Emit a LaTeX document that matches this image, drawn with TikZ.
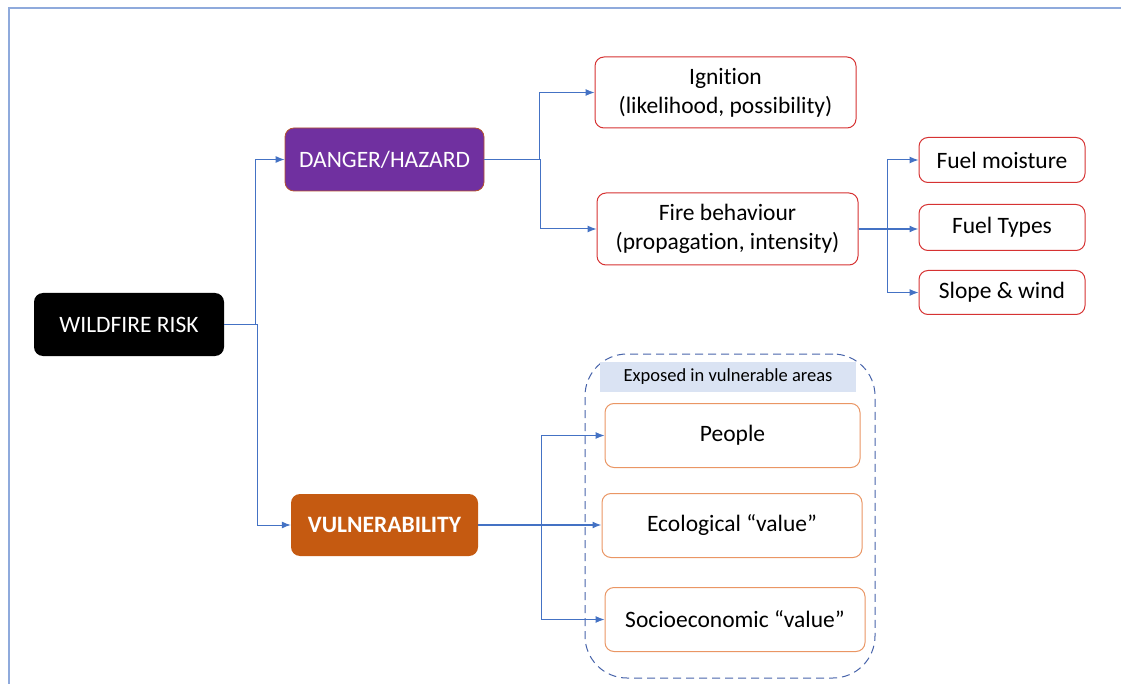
\documentclass[tikz,border=0pt]{standalone}
\usepackage{fontspec}
\setmainfont{Carlito}[RawFeature={-liga;-clig;-calt;-dlig}]
\usetikzlibrary{arrows.meta}
\newcommand{\nolig}{\kern0pt}
\definecolor{lineblue}{RGB}{68,114,196}
\definecolor{framecol}{RGB}{143,170,220}
\definecolor{purpfill}{RGB}{112,48,160}
\definecolor{orangefill}{RGB}{197,90,17}
\definecolor{redline}{RGB}{214,50,50}
\definecolor{orangeline}{RGB}{234,150,100}
\definecolor{labelfill}{RGB}{218,227,243}
\definecolor{dashcol}{RGB}{72,100,170}
\tikzset{
  base/.style={rounded corners=9pt, align=center, inner sep=0pt,
    font=\fontsize{23.5}{29}\selectfont},
  redbox/.style={base, draw=redline, line width=1pt, fill=white},
  orbox/.style={base, draw=orangeline, line width=1pt, fill=white},
  conn/.style={draw=lineblue, line width=1pt, -{Latex[length=9pt,width=7pt]}},
}
\begin{document}
\begin{tikzpicture}[x=1pt,y=-1pt]
\useasboundingbox (0,0) rectangle (1121,684);
% frame
\draw[framecol, line width=2pt] (9,690) -- (9,8) -- (1130,8);
% main nodes
\node[base, fill=black, text=white, minimum width=190pt, minimum height=63pt] (risk) at (129,324.5) {WILDFIRE RISK};
\node[base, fill=purpfill, draw=orangefill!80!purpfill, line width=0.8pt, text=white, minimum width=199pt, minimum height=63pt] (danger) at (384.5,159.5) {DANGER/HAZARD};
\node[base, fill=orangefill, text=white, minimum width=187pt, minimum height=62pt, font=\fontsize{23.5}{29}\selectfont\bfseries] (vuln) at (384.5,525) {VULNERABILITY};
% hazard branch
\node[redbox, minimum width=261pt, minimum height=71pt] (ign) at (725.5,92.5) {Igni\nolig tion\\(likelihood, possibility)};
\node[redbox, minimum width=261pt, minimum height=72pt] (fire) at (727.5,229) {Fire behaviour\\(propaga\nolig tion, intensity)};
\node[redbox, minimum width=166pt, minimum height=45pt] (fm) at (1002,160) {Fuel moisture};
\node[redbox, minimum width=166pt, minimum height=46pt] (ft) at (1002,227.5) {Fuel Types};
\node[redbox, minimum width=166pt, minimum height=44pt] (sw) at (1002,292.5) {Slope \& wind};
% vulnerability group
\node[draw=dashcol, line width=1pt, dash pattern=on 8pt off 5pt, rounded corners=42pt, minimum width=290pt, minimum height=324pt] (group) at (730,516) {};
\node[fill=labelfill, minimum width=256pt, minimum height=30pt, inner sep=0pt, font=\fontsize{18.5}{22}\selectfont] (lab) at (728,376.5) {Exposed in vulnerable areas};
\node[orbox, minimum width=255pt, minimum height=64pt] (people) at (732.5,435.5) {People};
\node[orbox, minimum width=260pt, minimum height=64pt] (eco) at (732,525.5) {Ecological “value”};
\node[orbox, minimum width=260pt, minimum height=64pt] (socio) at (735,619.5) {Socioeconomic “value”};
% connectors
\draw[conn] (risk.east) -- ++(31,0) |- (danger.west);
\draw[conn] (risk.east) -- ++(33,0) |- (vuln.west);
\draw[conn] (danger.east) -- ++(55,0) |- (ign.west);
\draw[conn] (danger.east) -- ++(56,0) |- (fire.west);
\draw[conn] (fire.east) -- ++(29,0) |- (fm.west);
\draw[conn, line width=1.4pt] (fire.east) -- (ft.west |- fire.east);
\draw[conn] (fire.east) -- ++(29,0) |- (sw.west);
\draw[conn] (vuln.east) -- ++(63,0) |- (people.west);
\draw[conn, line width=1.4pt] (vuln.east) -- (eco.west |- vuln.east);
\draw[conn] (vuln.east) -- ++(63,0) |- (socio.west);
\end{tikzpicture}
\end{document}
